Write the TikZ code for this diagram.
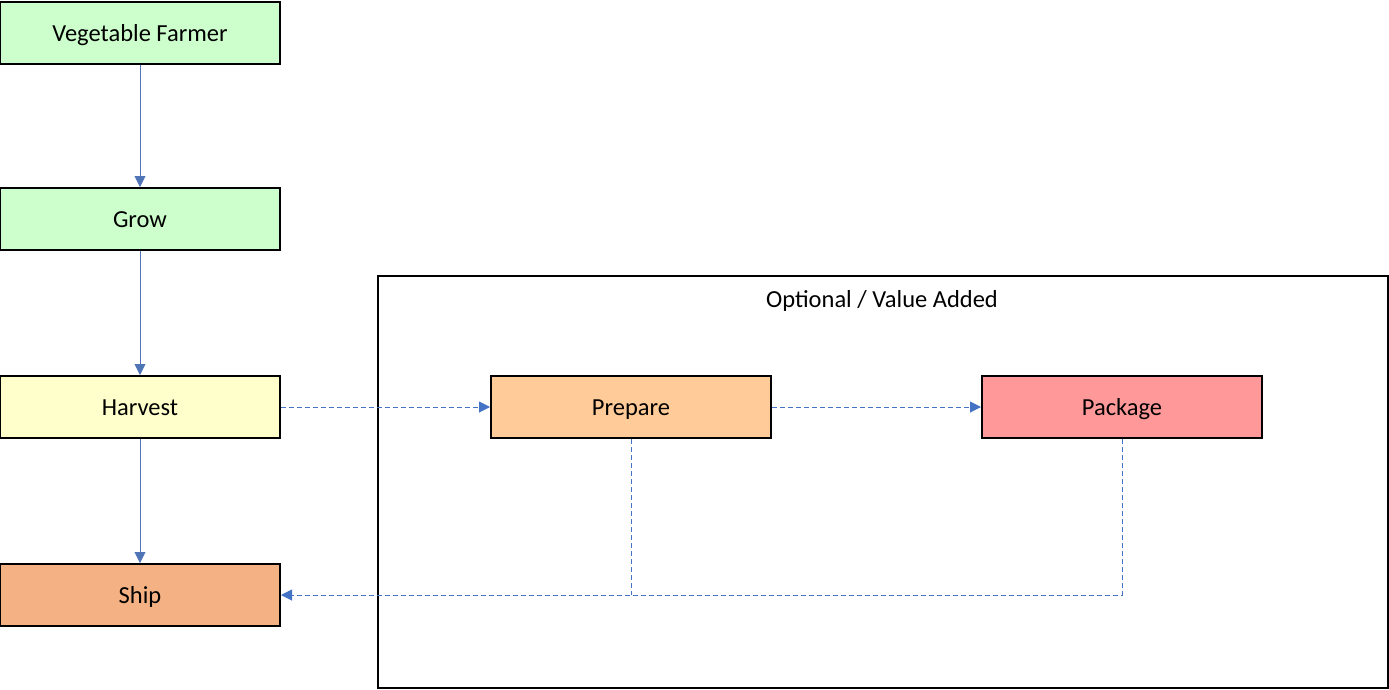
\documentclass[tikz,border=0pt]{standalone}
\usepackage{fontspec}
\setmainfont{Carlito}
\usepackage{tikz}
\usetikzlibrary{arrows.meta,positioning}
\definecolor{FarmGreen}{HTML}{CCFFCC}
\definecolor{HarvestYellow}{HTML}{FFFFCC}
\definecolor{PrepOrange}{HTML}{FFCC99}
\definecolor{PackRed}{HTML}{FF9999}
\definecolor{ShipOrange}{HTML}{F4B183}
\definecolor{LinkBlue}{HTML}{4472C4}
\tikzset{
  boxfont/.style={font=\fontsize{24.5}{29}\selectfont,text height=18pt,text depth=1pt},
  stepbox/.style={draw=black,line width=2pt,minimum width=280pt,minimum height=62pt,
    inner sep=0pt,boxfont},
  flow/.style={draw=LinkBlue!80!gray,line width=0.9pt,-{Triangle[length=11pt,width=11pt]}},
  optflow/.style={draw=LinkBlue,line width=1pt,dash pattern=on 5pt off 3pt}
}

\begin{document}
\begin{tikzpicture}[line cap=butt,line join=miter,x=1pt,y=-1pt]
  \useasboundingbox (0,0) rectangle (1389,689);
  % optional part
  \node[draw=black,line width=2pt,minimum width=1010pt,minimum height=412pt,inner sep=0pt]
    (optbox) at (883,482) {};
  \node[boxfont] (optlabel) at (882,299) {Optional / Value Added};
  % farm steps
  \node[stepbox,fill=FarmGreen] (farmer) at (140,33) {Vegetable Farmer};
  \node[stepbox,fill=FarmGreen] (grow) at (140,219) {Grow};
  \node[stepbox,fill=HarvestYellow] (harvest) at (140,407) {Harvest};
  \node[stepbox,fill=ShipOrange] (ship) at (140,595) {Ship};
  \node[stepbox,fill=PrepOrange] (prepare) at (631,407) {Prepare};
  \node[stepbox,fill=PackRed] (package) at (1122,407) {Package};
  \coordinate (joinprep) at (prepare.south |- ship.east);
  \coordinate (joinpack) at (package.south |- ship.east);
  \draw[flow] (farmer) -- (grow);
  \draw[flow] (grow) -- (harvest);
  \draw[flow] (harvest) -- (ship);
  \draw[optflow,-{Triangle[length=11pt,width=11pt]}] (harvest) -- (prepare);
  \draw[optflow,-{Triangle[length=11pt,width=11pt]}] (prepare) -- (package);
  \draw[optflow] (prepare.south) -- (joinprep);
  \draw[optflow,-{Triangle[length=11pt,width=11pt]}] (package.south) -- (joinpack) -- (ship.east);
\end{tikzpicture}
\end{document}
